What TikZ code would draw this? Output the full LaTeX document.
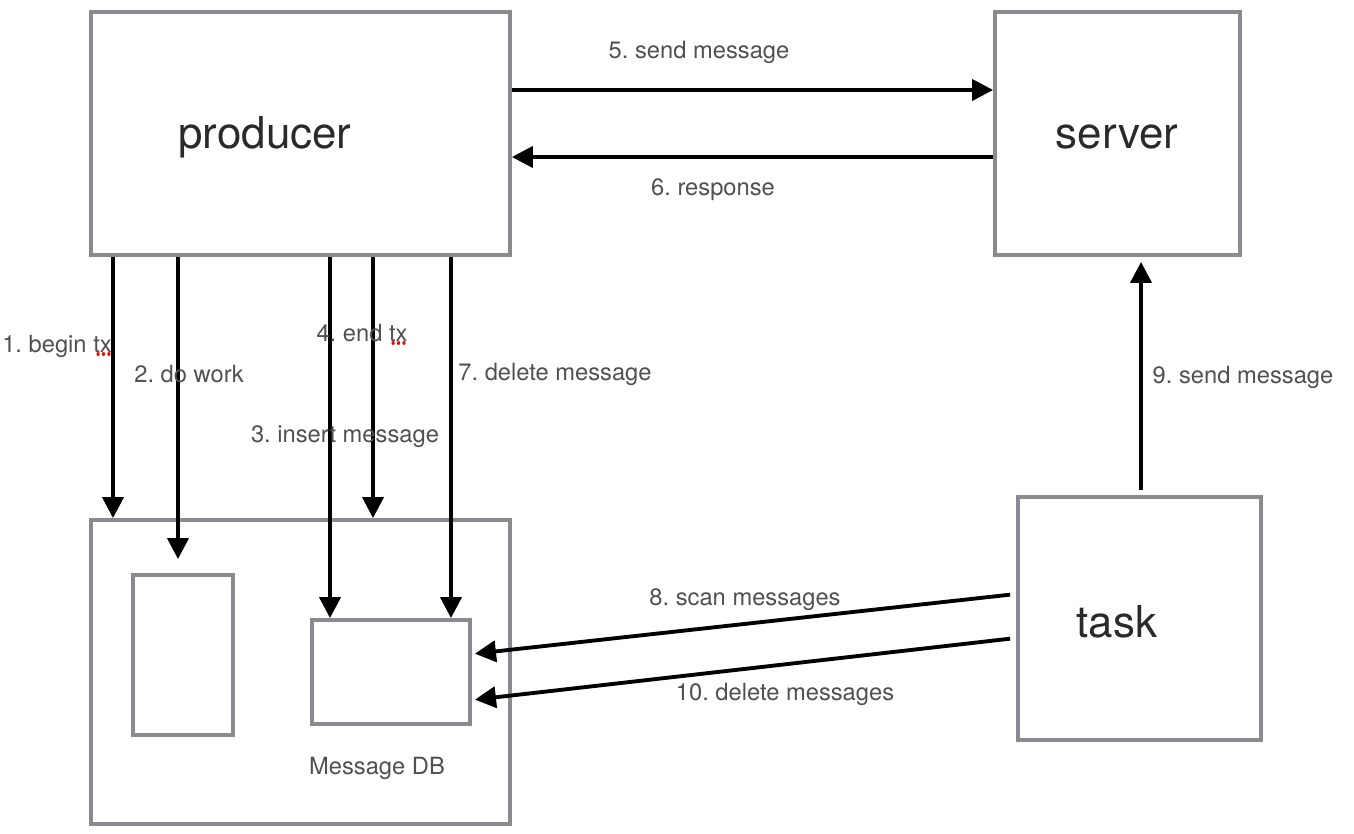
\documentclass[tikz,border=0pt]{standalone}
\usepackage{fontspec}
\setmainfont{TeX Gyre Heros}
\usetikzlibrary{arrows.meta, positioning}
\definecolor{boxgray}{HTML}{8A8A90}
\definecolor{lblgray}{HTML}{505050}
\definecolor{txtdark}{HTML}{2A2A2A}
\frenchspacing

\begin{document}
\begin{tikzpicture}[x=0.02cm, y=-0.02cm,
          box/.style = {draw=boxgray, line width=2.2pt, inner sep=0pt},
          big/.style = {text=txtdark, font=\fontsize{25}{28}\selectfont},
          lbl/.style = {text=lblgray, font=\fontsize{13.5}{15}\selectfont, inner sep=1pt},
          arr/.style = {->, line width=2.2pt},
          squig/.style = {red, line width=1.8pt, line cap=round, dash pattern=on 0.1pt off 3pt},
          >={Triangle[length=12pt, width=12pt]}]
        \useasboundingbox (0,0) rectangle (1354,834);
        % boxes
        \node[box, minimum width=8.38cm, minimum height=4.86cm] (producer) at (300.5,133.5) {};
        \node[box, minimum width=4.90cm, minimum height=4.86cm] (server)   at (1117.5,133.5) {};
        \node[box, minimum width=8.38cm, minimum height=6.08cm] (db)       at (300.5,672) {};
        \node[box, minimum width=2.00cm, minimum height=3.20cm] (work)     at (183,655) {};
        \node[box, minimum width=3.16cm, minimum height=2.08cm] (msg)      at (391,672) {};
        \node[box, minimum width=4.86cm, minimum height=4.86cm] (task)     at (1139.5,618.5) {};
        \node[big] (producer-txt) at (265,137) {producer};
        \node[big] (server-txt)   at (1117,137) {server};
        \node[big] (task-txt)     at (1117,622) {task};
        \node[lbl] (db-txt)       at (377,768) {Message DB};
        % columns of the vertical arrows
        \coordinate (c1) at (113,0);
        \coordinate (c2) at (178,0);
        \coordinate (c3) at (330,0);
        \coordinate (c4) at (373,0);
        \coordinate (c7) at (451,0);
        \coordinate (c9) at (1141,0);
        % producer -> message db
        \draw[arr] (producer.south -| c1) -- (db.north -| c1);
        \draw[arr, shorten >=0.28cm] (producer.south -| c2) -- (work.north -| c2);
        \draw[arr] (producer.south -| c3) -- (msg.north -| c3);
        \draw[arr] (producer.south -| c4) -- (db.north -| c4);
        \draw[arr] (producer.south -| c7) -- (msg.north -| c7);
        \node[lbl] (l1) at (57,346)  {1. begin tx};
        \node[lbl] (l2) at (189,374) {2. do work};
        \node[lbl] (l3) at (345,437) {3. insert message};
        \node[lbl] (l4) at (362,333) {4. end tx};
        \node[lbl] (l7) at (555,374) {7. delete message};
        \draw[squig] (98,354) -- (112,354);
        \draw[squig] (393,343) -- (407,343);
        % producer <-> server
        \draw[arr] ([yshift=0.87cm]producer.east) -- ([yshift=0.87cm]server.west);
        \draw[arr] ([yshift=-0.47cm]server.west) -- ([yshift=-0.47cm]producer.east);
        \node[lbl] (l5) at (699,52)  {5. send message};
        \node[lbl] (l6) at (713,190) {6. response};
        % task
        \draw[arr, shorten <=0.1cm, shorten >=0.1cm] (task.north -| c9) -- (server.south -| c9);
        \node[lbl] (l9) at (1243,377) {9. send message};
        \draw[arr, shorten <=0.12cm, shorten >=0.06cm] ([yshift=0.49cm]task.west) -- ([yshift=0.36cm]msg.east);
        \draw[arr, shorten <=0.12cm, shorten >=0.06cm] ([yshift=-0.39cm]task.west) -- ([yshift=-0.56cm]msg.east);
        \node[lbl] (l8)  at (745,600) {8. scan messages};
        \node[lbl] (l10) at (785,694) {10. delete messages};
      \end{tikzpicture}
\end{document}
